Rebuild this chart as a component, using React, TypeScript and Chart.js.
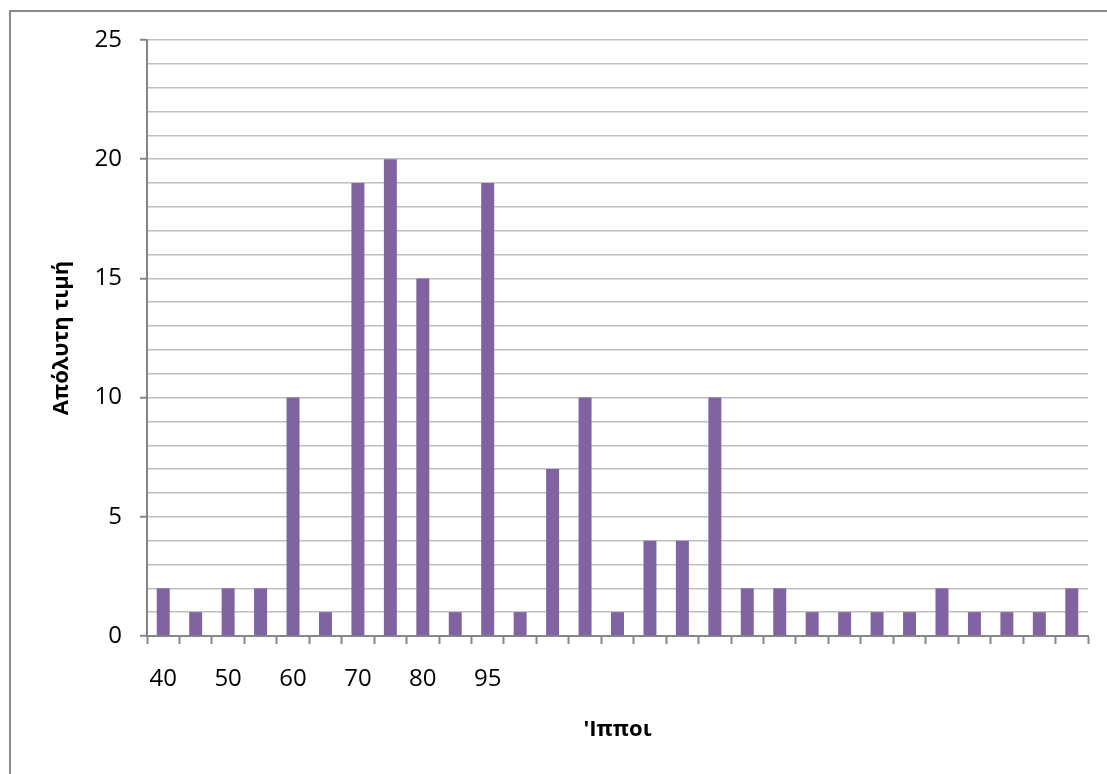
import React, { useEffect, useRef } from "react";
import { Chart, registerables } from "chart.js";

Chart.register(...registerables);

// Category labels along the horizontal axis (only some positions are labelled)
const categories: string[] = [
  "40", "", "50", "", "60", "", "70", "", "80", "", "95", "", "", "", "",
  "", "", "", "", "", "", "", "", "", "", "", "", "", "",
];

// Absolute frequency per category
const counts: number[] = [
  2, 1, 2, 2, 10, 1, 19, 20, 15, 1, 19, 1, 7, 10, 1,
  4, 4, 10, 2, 2, 1, 1, 1, 1, 2, 1, 1, 1, 2,
];

const yMax = 25;
const yMajorStep = 5;
const yTitle = "Απόλυτη τιμή";
const xTitle = "'Ιπποι";

const FONT = "'Open Sans', 'DejaVu Sans', sans-serif";

export default function App() {
  const canvasRef = useRef<HTMLCanvasElement | null>(null);

  useEffect(() => {
    document.body.style.margin = "0";
    const canvas = canvasRef.current;
    if (!canvas) return;

    const chart = new Chart(canvas, {
      type: "bar",
      data: {
        labels: categories,
        datasets: [
          {
            data: counts,
            backgroundColor: "#8064A2",
            borderWidth: 0,
            categoryPercentage: 1,
            barPercentage: 0.4,
          },
        ],
      },
      options: {
        responsive: false,
        animation: false,
        layout: { padding: { top: 40, right: 19, bottom: 0, left: 0 } },
        plugins: {
          legend: { display: false },
          tooltip: { enabled: false },
        },
        scales: {
          x: {
            offset: true,
            grid: {
              offset: true,
              drawOnChartArea: false,
              drawTicks: true,
              tickLength: 8,
              tickColor: "#868686",
              tickWidth: 2,
            },
            border: { color: "#868686", width: 2 },
            ticks: {
              autoSkip: false,
              maxRotation: 0,
              minRotation: 0,
              padding: 21,
              color: "#000",
              font: { family: FONT, size: 24 },
            },
            title: {
              display: true,
              text: xTitle,
              color: "#000",
              font: { family: FONT, size: 22, weight: "bold" },
              padding: { top: 0, bottom: 31 },
            },
            afterFit: (scale: any) => {
              scale.height = 138;
            },
          },
          y: {
            min: 0,
            max: yMax,
            grid: {
              color: "#BFBFBF",
              lineWidth: 1.5,
              tickLength: 7,
              tickWidth: 2,
              tickColor: (ctx: any) =>
                ctx.tick && ctx.tick.value % yMajorStep === 0 ? "#868686" : "rgba(0,0,0,0)",
            },
            border: { color: "#868686", width: 2 },
            ticks: {
              stepSize: 1,
              autoSkip: false,
              padding: 18,
              color: "#000",
              font: { family: FONT, size: 24 },
              callback: (v: any) => (Number(v) % yMajorStep === 0 ? String(v) : ""),
            },
            title: {
              display: true,
              text: yTitle,
              color: "#000",
              font: { family: FONT, size: 22, weight: "bold" },
              padding: { top: 49, bottom: 0 },
            },
            afterFit: (scale: any) => {
              scale.width = 147;
            },
          },
        },
      },
    } as any);

    return () => chart.destroy();
  }, []);

  return (
    <div style={{ position: "relative", width: 1107, height: 774, overflow: "hidden", background: "#fff" }}>
      <canvas ref={canvasRef} width={1107} height={774} style={{ display: "block" }} />
      <div
        style={{
          position: "absolute",
          left: 9,
          top: 10,
          width: 1200,
          height: 900,
          borderTop: "2px solid #898989",
          borderLeft: "2px solid #898989",
          pointerEvents: "none",
        }}
      />
    </div>
  );
}
